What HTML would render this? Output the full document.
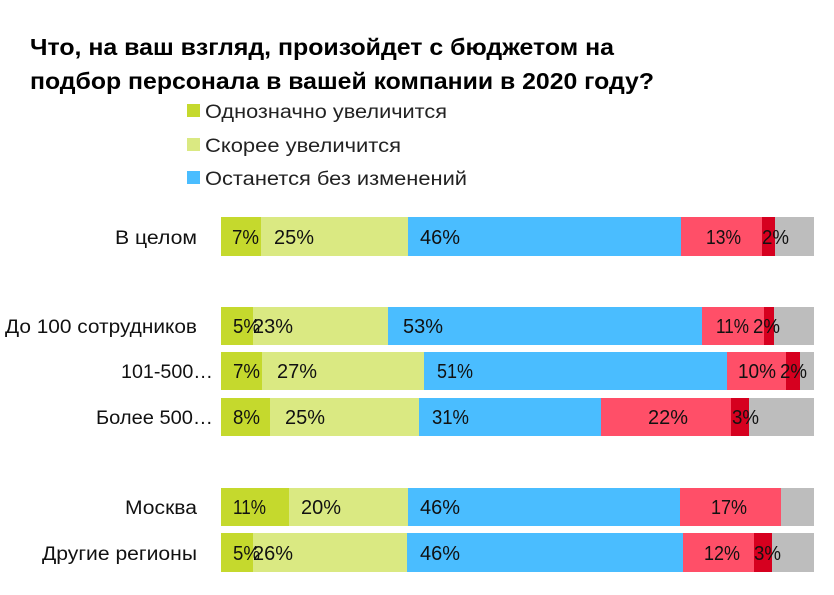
<!DOCTYPE html>
<html><head><meta charset="utf-8"><style>
html,body{margin:0;padding:0;background:#fff;}
svg{display:block;font-family:"Liberation Sans",sans-serif;}
</style></head><body>
<svg width="834" height="595" viewBox="0 0 834 595" xmlns="http://www.w3.org/2000/svg">
<g font-weight="bold" font-size="23" fill="#000">
<text x="30" y="55" textLength="584" lengthAdjust="spacingAndGlyphs">Что, на ваш взгляд, произойдет с бюджетом на</text>
<text x="30" y="89" textLength="624" lengthAdjust="spacingAndGlyphs">подбор персонала в вашей компании в 2020 году?</text>
</g>
<g font-size="19" fill="#222">
<rect x="187" y="104" width="13" height="13" fill="#c5d92d"/>
<text x="205" y="118" textLength="242" lengthAdjust="spacingAndGlyphs">Однозначно увеличится</text>
<rect x="187" y="138" width="13" height="13" fill="#dae982"/>
<text x="205" y="152" textLength="196" lengthAdjust="spacingAndGlyphs">Скорее увеличится</text>
<rect x="187" y="171" width="13" height="13" fill="#4abdff"/>
<text x="205" y="185" textLength="262" lengthAdjust="spacingAndGlyphs">Останется без изменений</text>
</g>
<g font-size="19" fill="#111" text-anchor="end">
<text x="197" y="244" textLength="82" lengthAdjust="spacingAndGlyphs">В целом</text>
<text x="197" y="333" textLength="192" lengthAdjust="spacingAndGlyphs">До 100 сотрудников</text>
<text x="213" y="378" textLength="92" lengthAdjust="spacingAndGlyphs">101-500…</text>
<text x="213" y="424" textLength="117" lengthAdjust="spacingAndGlyphs">Более 500…</text>
<text x="197" y="514" textLength="72" lengthAdjust="spacingAndGlyphs">Москва</text>
<text x="197" y="560" textLength="155" lengthAdjust="spacingAndGlyphs">Другие регионы</text>
</g>
<g>
<rect x="221" y="217" width="40" height="39" fill="#c5d92d"/><rect x="261" y="217" width="147" height="39" fill="#dae982"/><rect x="408" y="217" width="273" height="39" fill="#4abdff"/><rect x="681" y="217" width="81" height="39" fill="#ff4f68"/><rect x="762" y="217" width="13" height="39" fill="#d6001f"/><rect x="775" y="217" width="39" height="39" fill="#bdbdbd"/>
<rect x="221" y="307" width="32" height="38" fill="#c5d92d"/><rect x="253" y="307" width="135" height="38" fill="#dae982"/><rect x="388" y="307" width="314" height="38" fill="#4abdff"/><rect x="702" y="307" width="62" height="38" fill="#ff4f68"/><rect x="764" y="307" width="10" height="38" fill="#d6001f"/><rect x="774" y="307" width="40" height="38" fill="#bdbdbd"/>
<rect x="221" y="352" width="41" height="38" fill="#c5d92d"/><rect x="262" y="352" width="162" height="38" fill="#dae982"/><rect x="424" y="352" width="303" height="38" fill="#4abdff"/><rect x="727" y="352" width="59" height="38" fill="#ff4f68"/><rect x="786" y="352" width="14" height="38" fill="#d6001f"/><rect x="800" y="352" width="14" height="38" fill="#bdbdbd"/>
<rect x="221" y="398" width="49" height="38" fill="#c5d92d"/><rect x="270" y="398" width="149" height="38" fill="#dae982"/><rect x="419" y="398" width="182" height="38" fill="#4abdff"/><rect x="601" y="398" width="130" height="38" fill="#ff4f68"/><rect x="731" y="398" width="18" height="38" fill="#d6001f"/><rect x="749" y="398" width="65" height="38" fill="#bdbdbd"/>
<rect x="221" y="488" width="68" height="38" fill="#c5d92d"/><rect x="289" y="488" width="119" height="38" fill="#dae982"/><rect x="408" y="488" width="272" height="38" fill="#4abdff"/><rect x="680" y="488" width="101" height="38" fill="#ff4f68"/><rect x="781" y="488" width="33" height="38" fill="#bdbdbd"/>
<rect x="221" y="533" width="32" height="39" fill="#c5d92d"/><rect x="253" y="533" width="154" height="39" fill="#dae982"/><rect x="407" y="533" width="276" height="39" fill="#4abdff"/><rect x="683" y="533" width="71" height="39" fill="#ff4f68"/><rect x="754" y="533" width="18" height="39" fill="#d6001f"/><rect x="772" y="533" width="42" height="39" fill="#bdbdbd"/>
</g>
<g font-size="20" fill="#111">
<text x="232" y="244" textLength="27" lengthAdjust="spacingAndGlyphs">7%</text><text x="274" y="244" textLength="40" lengthAdjust="spacingAndGlyphs">25%</text><text x="420" y="244" textLength="40" lengthAdjust="spacingAndGlyphs">46%</text><text x="706" y="244" textLength="35" lengthAdjust="spacingAndGlyphs">13%</text><text x="762" y="244" textLength="27" lengthAdjust="spacingAndGlyphs">2%</text>
<text x="233" y="333" textLength="27" lengthAdjust="spacingAndGlyphs">5%</text><text x="253" y="333" textLength="40" lengthAdjust="spacingAndGlyphs">23%</text><text x="403" y="333" textLength="40" lengthAdjust="spacingAndGlyphs">53%</text><text x="716" y="333" textLength="33" lengthAdjust="spacingAndGlyphs">11%</text><text x="753" y="333" textLength="27" lengthAdjust="spacingAndGlyphs">2%</text>
<text x="233" y="378" textLength="27" lengthAdjust="spacingAndGlyphs">7%</text><text x="277" y="378" textLength="40" lengthAdjust="spacingAndGlyphs">27%</text><text x="437" y="378" textLength="36" lengthAdjust="spacingAndGlyphs">51%</text><text x="738" y="378" textLength="38" lengthAdjust="spacingAndGlyphs">10%</text><text x="780" y="378" textLength="27" lengthAdjust="spacingAndGlyphs">2%</text>
<text x="233" y="424" textLength="27" lengthAdjust="spacingAndGlyphs">8%</text><text x="285" y="424" textLength="40" lengthAdjust="spacingAndGlyphs">25%</text><text x="432" y="424" textLength="37" lengthAdjust="spacingAndGlyphs">31%</text><text x="648" y="424" textLength="40" lengthAdjust="spacingAndGlyphs">22%</text><text x="732" y="424" textLength="27" lengthAdjust="spacingAndGlyphs">3%</text>
<text x="233" y="514" textLength="33" lengthAdjust="spacingAndGlyphs">11%</text><text x="301" y="514" textLength="40" lengthAdjust="spacingAndGlyphs">20%</text><text x="420" y="514" textLength="40" lengthAdjust="spacingAndGlyphs">46%</text><text x="711" y="514" textLength="36" lengthAdjust="spacingAndGlyphs">17%</text>
<text x="233" y="560" textLength="27" lengthAdjust="spacingAndGlyphs">5%</text><text x="253" y="560" textLength="40" lengthAdjust="spacingAndGlyphs">26%</text><text x="420" y="560" textLength="40" lengthAdjust="spacingAndGlyphs">46%</text><text x="704" y="560" textLength="36" lengthAdjust="spacingAndGlyphs">12%</text><text x="754" y="560" textLength="27" lengthAdjust="spacingAndGlyphs">3%</text>
</g>
</svg>
</body></html>
